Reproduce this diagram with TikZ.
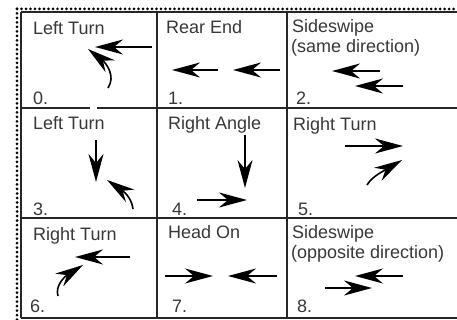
\documentclass[tikz,border=0pt]{standalone}
\usepackage{fontspec}
\setmainfont{Liberation Sans}
\usetikzlibrary{arrows.meta}
\begin{document}
\begin{tikzpicture}[x=1pt,y=-1pt,
 gridline/.style={line width=1.4pt, draw=black!85},
 dotline/.style={line width=3pt, line cap=round, dash pattern=on 0pt off 4.5pt, draw=black},
 lbl/.style={anchor=base west, inner sep=0pt, font=\fontsize{18}{19.5}\selectfont, text=black!78},
 arr/.style={line width=1.6pt, draw=black, -{Stealth[length=28pt,width=15pt,inset=9pt]}}
]
\useasboundingbox (0,0) rectangle (457,320);
\fill[white] (0,0) rectangle (457,320);
% borders
\draw[dotline] (17,9) -- (457,9);
\draw[dotline] (17,9) -- (17,320);
\draw[gridline] (21,12) -- (457,12);
\draw[gridline] (21,12) -- (21,318);
\draw[gridline] (157,12) -- (157,318);
\draw[gridline] (287,12) -- (287,318);
\draw[gridline] (21,108) -- (90,108);
\draw[gridline] (97,108) -- (457,108);
\draw[gridline] (21,218) -- (457,218);
\draw[gridline] (21,318) -- (457,318);
% labels
\node[lbl] (t0) at (33,35) {Left Turn};
\node[lbl] (t1) at (166,34) {Rear End};
\node[lbl] (t2a) at (292,33) {Sideswipe};
\node[lbl] (t2b) at (291,53) {(same direction)};
\node[lbl] (n0) at (33,105) {0.};
\node[lbl] (n1) at (168,105) {1.};
\node[lbl] (n2) at (296,105) {2.};
\node[lbl] (t3) at (33,130) {Left Turn};
\node[lbl] (t4) at (168,130) {Right Angle};
\node[lbl] (t5) at (293,131) {Right Turn};
\node[lbl] (n3) at (33,215) {3.};
\node[lbl] (n4) at (172,215) {4.};
\node[lbl] (n5) at (298,215) {5.};
\node[lbl] (t6) at (33,240) {Right Turn};
\node[lbl] (t7) at (168,238) {Head On};
\node[lbl] (t8a) at (292,238) {Sideswipe};
\node[lbl] (t8b) at (291,258) {(opposite direction)};
\node[lbl] (n6) at (30,312) {6.};
\node[lbl] (n7) at (172,312) {7.};
\node[lbl] (n8) at (297,312) {8.};
% cell 0
\coordinate (a0s) at (152,47); \coordinate (a0e) at (95,47);
\draw[arr] (a0s) -- (a0e);
\coordinate (c0s) at (108,88); \coordinate (c0e) at (88,49);
\draw[arr] (c0s) .. controls (116,76) and (106,63) .. (c0e);
% cell 1
\coordinate (a1s) at (218,70); \coordinate (a1e) at (172,70);
\coordinate (b1s) at (280,70); \coordinate (b1e) at (233,70);
\draw[arr] (a1s) -- (a1e);
\draw[arr] (b1s) -- (b1e);
% cell 2
\coordinate (a2s) at (380,71); \coordinate (a2e) at (332,71);
\coordinate (b2s) at (403,86); \coordinate (b2e) at (355,86);
\draw[arr] (a2s) -- (a2e);
\draw[arr] (b2s) -- (b2e);
% cell 3
\coordinate (a3s) at (96,140); \coordinate (a3e) at (96,182);
\draw[arr] (a3s) -- (a3e);
\coordinate (c3s) at (133,209); \coordinate (c3e) at (107,180);
\draw[arr] (c3s) .. controls (132,200) and (126,193) .. (c3e);
% cell 4
\coordinate (a4s) at (245,135); \coordinate (a4e) at (245,188);
\coordinate (b4s) at (197,200); \coordinate (b4e) at (247,200);
\draw[arr] (a4s) -- (a4e);
\draw[arr] (b4s) -- (b4e);
% cell 5
\coordinate (a5s) at (345,146); \coordinate (a5e) at (403,146);
\draw[arr] (a5s) -- (a5e);
\coordinate (c5s) at (367,185); \coordinate (c5e) at (402,160);
\draw[arr] (c5s) .. controls (372,177) and (380,173) .. (c5e);
% cell 6
\coordinate (a6s) at (130,257); \coordinate (a6e) at (75,257);
\draw[arr] (a6s) -- (a6e);
\coordinate (c6s) at (58,296); \coordinate (c6e) at (83,265);
\draw[arr] (c6s) .. controls (55,286) and (64,277) .. (c6e);
% cell 7
\coordinate (a7s) at (165,276); \coordinate (a7e) at (213,276);
\coordinate (b7s) at (277,276); \coordinate (b7e) at (228,276);
\draw[arr] (a7s) -- (a7e);
\draw[arr] (b7s) -- (b7e);
% cell 8
\coordinate (a8s) at (403,276); \coordinate (a8e) at (355,276);
\coordinate (b8s) at (325,288); \coordinate (b8e) at (372,288);
\draw[arr] (a8s) -- (a8e);
\draw[arr] (b8s) -- (b8e);
\end{tikzpicture}
\end{document}
